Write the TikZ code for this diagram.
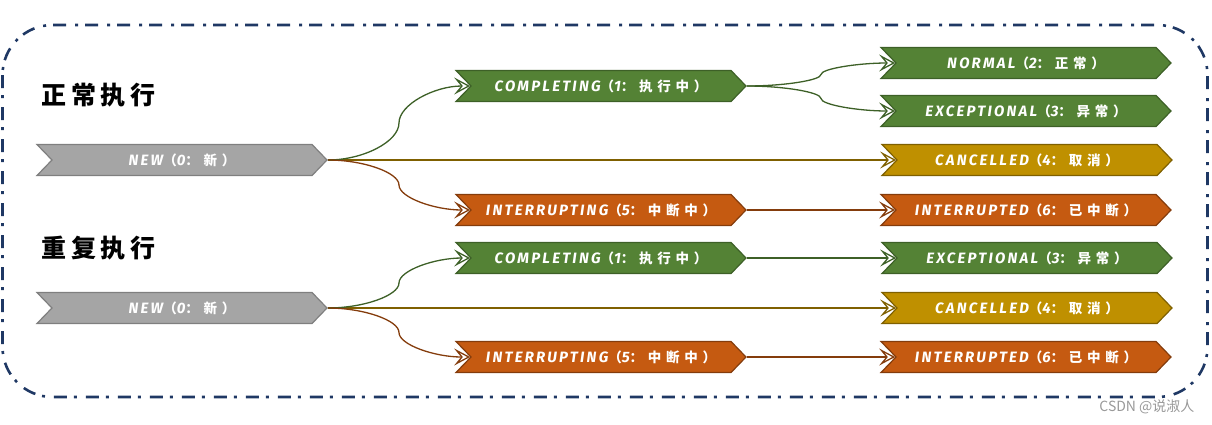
\documentclass[tikz,border=0pt]{standalone}
\usepackage{fontspec}
\usetikzlibrary{shapes.symbols,arrows.meta,calc}
\newfontfamily\latf[LetterSpace=15]{Fira Sans}
\newfontfamily\cjkf[LetterSpace=35]{Noto Sans CJK SC}
\newfontfamily\titlef[LetterSpace=18]{Noto Sans CJK SC}
\newfontfamily\wmf{Noto Sans CJK SC}
\definecolor{cG}{HTML}{548235}
\definecolor{cGd}{HTML}{3D6027}
\definecolor{cY}{HTML}{BF9000}
\definecolor{cYd}{HTML}{7F6000}
\definecolor{cO}{HTML}{C55A11}
\definecolor{cOd}{HTML}{843C0C}
\definecolor{cA}{HTML}{A5A5A5}
\definecolor{cAd}{HTML}{7F7F7F}
\definecolor{cN}{HTML}{1F3864}
\newcommand\boxlbl[3]{{\latf\bfseries\itshape\fontsize{15}{17}\selectfont #1}{\cjkf\bfseries\fontsize{13.5}{17}\selectfont （}{\latf\bfseries\itshape\fontsize{15}{17}\selectfont #2}{\cjkf\bfseries\fontsize{13.5}{17}\selectfont ：#3）}}
\tikzset{
  stbox/.style={signal, signal to=east, signal from=west, signal pointer angle=92,
    minimum width=290pt, minimum height=31pt, inner sep=0pt, line width=1.2pt, text=white},
  gbox/.style={stbox, fill=cG, draw=cGd},
  ybox/.style={stbox, fill=cY, draw=cYd},
  obox/.style={stbox, fill=cO, draw=cOd},
  abox/.style={stbox, fill=cA, draw=cAd},
  conn/.style={line width=1.3pt, -{Stealth[open, length=16pt, width=17pt, inset=7pt, line width=1.3pt]}},
  gcon/.style={conn, draw=cGd},
  ycon/.style={conn, draw=cYd},
  ocon/.style={conn, draw=cOd},
  curvecon/.style={to path={let \p1=(\tikztostart), \p2=(\tikztotarget) in
    .. controls ({\x1+0.25*(\x2-\x1)},\y1) and ({0.5*(\x1+\x2)},{\y1+0.25*(\y2-\y1)}) ..
    ({0.5*(\x1+\x2)},{0.5*(\y1+\y2)})
    .. controls ({0.5*(\x1+\x2)},{\y1+0.75*(\y2-\y1)}) and ({\x1+0.75*(\x2-\x1)},\y2) ..
    (\tikztotarget)}},
  titletext/.style={anchor=west, font=\titlef\bfseries\fontsize{25}{29}\selectfont}
}
\begin{document}
\begin{tikzpicture}[x=1pt, y=-1pt]
\useasboundingbox (0,0) rectangle (1212,424);
\draw[cN, line width=2.6pt, dash pattern=on 13pt off 7pt on 3pt off 9pt, rounded corners=50pt]
  (2.5,25) rectangle (1207.5,397);

\node[titletext] (t1) at (38,95) {正常执行};
\node[titletext] (t2) at (38,248) {重复执行};

% upper group
\node[abox] (new1) at (182,160) {\boxlbl{NEW}{0}{新}};
\node[gbox] (comp1) at (601,86) {\boxlbl{COMPLETING}{1}{执行中}};
\node[obox] (intg1) at (601,210) {\boxlbl{INTERRUPTING}{5}{中断中}};
\node[gbox] (norm1) at (1026,63) {\boxlbl{NORMAL}{2}{正常}};
\node[gbox] (exc1) at (1026,111) {\boxlbl{EXCEPTIONAL}{3}{异常}};
\node[ybox] (canc1) at (1027,160) {\boxlbl{CANCELLED}{4}{取消}};
\node[obox] (intd1) at (1026,210) {\boxlbl{INTERRUPTED}{6}{已中断}};

% lower group
\node[abox] (new2) at (182,308) {\boxlbl{NEW}{0}{新}};
\node[gbox] (comp2) at (601,258) {\boxlbl{COMPLETING}{1}{执行中}};
\node[obox] (intg2) at (601,357) {\boxlbl{INTERRUPTING}{5}{中断中}};
\node[gbox] (exc2) at (1027,258) {\boxlbl{EXCEPTIONAL}{3}{异常}};
\node[ybox] (canc2) at (1027,308) {\boxlbl{CANCELLED}{4}{取消}};
\node[obox] (intd2) at (1026,357) {\boxlbl{INTERRUPTED}{6}{已中断}};

% connectors upper
\draw[ycon] (new1.east) -- (canc1.west);
\draw[gcon] (new1.east) to[curvecon] (comp1.west);
\draw[ocon] (new1.east) to[curvecon] (intg1.west);
\draw[gcon] (comp1.east) to[curvecon] (norm1.west);
\draw[gcon] (comp1.east) to[curvecon] (exc1.west);
\draw[ocon] (intg1.east) -- (intd1.west);

% connectors lower
\draw[ycon] (new2.east) -- (canc2.west);
\draw[gcon] (new2.east) to[curvecon] (comp2.west);
\draw[ocon] (new2.east) to[curvecon] (intg2.west);
\draw[gcon] (comp2.east) -- (exc2.west);
\draw[ocon] (intg2.east) -- (intd2.west);

\node[text=black!40, font=\wmf\fontsize{14}{16}\selectfont, anchor=east] (wm) at (1198,407) {CSDN @说淑人};
\end{tikzpicture}
\end{document}
